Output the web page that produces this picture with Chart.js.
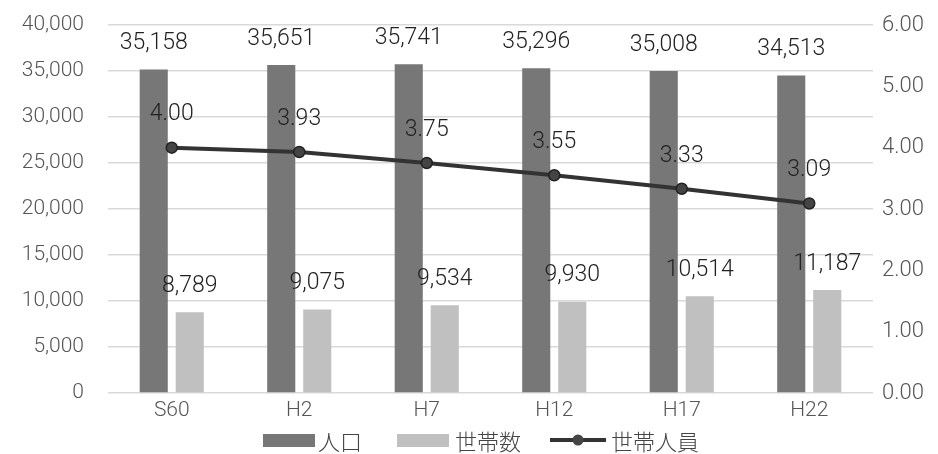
<!DOCTYPE html>
<html>
<head>
<meta charset="utf-8">
<script src="https://cdn.jsdelivr.net/npm/chart.js@4.4.1/dist/chart.umd.min.js"></script>
<style>
  html, body { margin: 0; padding: 0; background: #fff; }
  #wrap { width: 938px; height: 454px; }
</style>
</head>
<body>
<div id="wrap"><canvas id="c" width="938" height="454"></canvas></div>
<script>
// 国勢調査年
const categories = ['S60', 'H2', 'H7', 'H12', 'H17', 'H22'];
// 人口（人）
const population = [35158, 35651, 35741, 35296, 35008, 34513];
// 世帯数
const households = [8789, 9075, 9534, 9930, 10514, 11187];
// 世帯人員（人／世帯）
const perHousehold = [4.00, 3.93, 3.75, 3.55, 3.33, 3.09];

const NUM_FONT = 'Roboto, "DejaVu Sans", sans-serif';
const JP_FONT = '"Noto Sans CJK JP", sans-serif';

// Value labels above each bar and point
const valueLabels = {
  id: 'valueLabels',
  afterDatasetsDraw(chart) {
    const ctx = chart.ctx;
    ctx.save();
    ctx.font = '300 23px ' + NUM_FONT;
    ctx.fillStyle = '#222';
    ctx.textAlign = 'center';
    ctx.textBaseline = 'middle';
    chart.data.datasets.forEach((ds, di) => {
      const meta = chart.getDatasetMeta(di);
      meta.data.forEach((el, i) => {
        const v = ds.data[i];
        let txt, dy;
        if (ds.type === 'line') {
          txt = v.toFixed(2);
          dy = 33;
        } else {
          txt = v.toLocaleString('en-US');
          dy = 26;
        }
        ctx.fillText(txt, el.x, el.y - dy);
      });
    });
    ctx.restore();
  }
};

// Legend row under the axis
const bottomLegend = {
  id: 'bottomLegend',
  afterDraw(chart) {
    const ctx = chart.ctx;
    const y = 440;
    ctx.save();
    ctx.font = '300 22px ' + JP_FONT;
    ctx.textBaseline = 'middle';
    ctx.textAlign = 'left';
    // 人口
    ctx.fillStyle = '#777';
    ctx.fillRect(263, y - 6, 52, 13);
    ctx.fillStyle = '#444';
    ctx.fillText(chart.data.datasets[0].label, 318, y + 2);
    // 世帯数
    ctx.fillStyle = '#c0c0c0';
    ctx.fillRect(397, y - 6, 52, 13);
    ctx.fillStyle = '#444';
    ctx.fillText(chart.data.datasets[1].label, 455, y + 2);
    // 世帯人員
    ctx.strokeStyle = '#333';
    ctx.lineWidth = 4;
    ctx.beginPath();
    ctx.moveTo(550, y);
    ctx.lineTo(606, y);
    ctx.stroke();
    ctx.beginPath();
    ctx.arc(578, y, 5.5, 0, Math.PI * 2);
    ctx.fillStyle = '#444';
    ctx.fill();
    ctx.fillStyle = '#444';
    ctx.fillText(chart.data.datasets[2].label, 611, y + 2);
    ctx.restore();
  }
};

// Vertical axes: fixed widths, no extra label padding above/below the plot
function fixVertical(width) {
  return function (scale) {
    scale.width = width;
    scale.paddingTop = 0;
    scale.paddingBottom = 0;
  };
}

new Chart(document.getElementById('c'), {
  data: {
    labels: categories,
    datasets: [
      {
        type: 'bar',
        label: '人口',
        data: population,
        backgroundColor: '#777777',
        yAxisID: 'y',
        categoryPercentage: 0.565,
        barPercentage: 0.78,
        order: 2
      },
      {
        type: 'bar',
        label: '世帯数',
        data: households,
        backgroundColor: '#c0c0c0',
        yAxisID: 'y',
        categoryPercentage: 0.565,
        barPercentage: 0.78,
        order: 2
      },
      {
        type: 'line',
        label: '世帯人員',
        data: perHousehold,
        borderColor: '#333333',
        borderWidth: 4,
        pointRadius: 5.5,
        pointBackgroundColor: '#444',
        pointBorderColor: '#222',
        pointBorderWidth: 1.5,
        yAxisID: 'y1',
        tension: 0,
        order: 1
      }
    ]
  },
  options: {
    responsive: false,
    animation: false,
    layout: { padding: { top: 25, bottom: 0, left: 0, right: 0 } },
    plugins: {
      legend: { display: false },
      tooltip: { enabled: false }
    },
    scales: {
      x: {
        grid: { display: false },
        border: { display: false },
        ticks: { color: '#555', font: { family: NUM_FONT, size: 21, weight: 300 }, padding: -3 },
        afterFit(scale) { scale.height = 61; }
      },
      y: {
        position: 'left',
        min: 0,
        max: 40000,
        ticks: {
          stepSize: 5000,
          color: '#555',
          font: { family: NUM_FONT, size: 21, weight: 300 },
          padding: 24,
          callback: v => v.toLocaleString('en-US')
        },
        grid: { color: '#d9d9d9', lineWidth: 1.5, drawTicks: false },
        border: { display: false },
        afterFit: fixVertical(108)
      },
      y1: {
        position: 'right',
        min: 0,
        max: 6,
        ticks: {
          stepSize: 1,
          color: '#555',
          font: { family: NUM_FONT, size: 22, weight: 300 },
          padding: 9,
          callback: v => v.toFixed(2)
        },
        grid: { display: false, drawTicks: false },
        border: { display: false },
        afterFit: fixVertical(65)
      }
    }
  },
  plugins: [valueLabels, bottomLegend]
});
</script>
</body>
</html>
